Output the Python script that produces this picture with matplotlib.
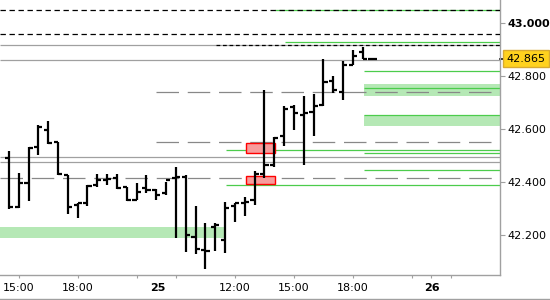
import matplotlib
matplotlib.use('Agg')
import matplotlib.pyplot as plt
from matplotlib.lines import Line2D
from matplotlib.patches import Rectangle
import matplotlib.transforms as mtransforms

# 30 minute bars, day 24 14:30 -> day 25 18:30 (session 08:00 - 22:00)
opens = [42.490, 42.307, 42.397, 42.533, 42.596, 42.550, 42.426, 42.313, 42.322, 42.388,
         42.407, 42.415, 42.380, 42.332, 42.377, 42.370, 42.358, 42.415, 42.420, 42.194,
         42.144, 42.231, 42.181, 42.309, 42.320, 42.332, 42.430, 42.464, 42.573, 42.681,
         42.652, 42.663, 42.690, 42.782, 42.740, 42.840, 42.890, 42.865]
highs = [42.518, 42.434, 42.533, 42.615, 42.630, 42.552, 42.426, 42.322, 42.388, 42.429,
         42.430, 42.430, 42.381, 42.397, 42.426, 42.372, 42.400, 42.457, 42.426, 42.309,
         42.245, 42.246, 42.326, 42.322, 42.344, 42.440, 42.746, 42.570, 42.686, 42.690,
         42.724, 42.731, 42.862, 42.800, 42.856, 42.897, 42.910, 42.867]
lows = [42.298, 42.300, 42.330, 42.502, 42.543, 42.426, 42.279, 42.263, 42.310, 42.382,
        42.388, 42.373, 42.330, 42.332, 42.357, 42.332, 42.351, 42.188, 42.137, 42.128,
        42.071, 42.141, 42.131, 42.250, 42.272, 42.313, 42.414, 42.456, 42.537, 42.596,
        42.464, 42.573, 42.686, 42.734, 42.709, 42.840, 42.863, 42.863]
closes = [42.307, 42.397, 42.528, 42.607, 42.546, 42.430, 42.304, 42.322, 42.385, 42.407,
          42.410, 42.377, 42.332, 42.363, 42.370, 42.351, 42.407, 42.419, 42.200, 42.147,
          42.140, 42.238, 42.302, 42.320, 42.326, 42.430, 42.464, 42.566, 42.674, 42.659,
          42.659, 42.686, 42.778, 42.746, 42.840, 42.876, 42.863, 42.865]
last_price = 42.865

# horizontal levels (prices)
black_dashed_full = [43.048, 42.957]
black_dashed_late = [42.916]
gray_solid = [42.916, 42.858, 42.495, 42.476]
gray_dashed_full = [42.415]
gray_dashed_day = [42.740, 42.549]
green_top = [43.048, 42.929]
green_mid = [42.520, 42.389]
green_late = [42.819, 42.755, 42.652, 42.509, 42.445]
bands_right = [(42.725, 42.770), (42.610, 42.652)]
band_left = (42.190, 42.231)
red_zones = [(42.508, 42.545), (42.392, 42.422)]

yticks = [42.2, 42.4, 42.6, 42.8, 43.0]
xtick_labels = ['15:00', '18:00', '12:00', '15:00', '18:00', '26']

# slot index of each tick (day 24 14:00 = 0, day 25 08:00 = 16, day 26 08:00 = 44)
xtick_pos = [2, 8, 24, 30, 36, 44]
xtick_minor = [14, 18, 42, 46]
day25_pos = 16.2

fig = plt.figure(figsize=(5.5, 3), dpi=100)
ax = fig.add_axes([0, 25 / 300, 500 / 550, 275 / 300])
x0, x1 = 0.1, 50.97
ax.set_xlim(x0, x1)
ax.set_ylim(42.0494, 43.0855)

green = '#4ccc4c'
gray = '#a0a0a0'
dgray = '#888888'

# bands
for lo, hi in bands_right:
    ax.add_patch(Rectangle((37.1, lo), x1 - 37.1, hi - lo, fc='#b5e8b5', ec='none', zorder=1))
ax.add_patch(Rectangle((x0, band_left[0]), 23.1 - x0, band_left[1] - band_left[0],
                       fc='#b5e8b5', ec='none', zorder=1))

# lines
ax.hlines(gray_solid, x0, x1, color=gray, lw=0.9, zorder=2)
ax.hlines(green_top[0], 28.1, x1, color=green, lw=0.9, zorder=2)
ax.hlines(green_top[1], 29.1, x1, color=green, lw=0.9, zorder=2)
ax.hlines(green_mid, 23.1, x1, color=green, lw=0.9, zorder=2)
ax.hlines(green_late, 37.1, x1, color=green, lw=0.9, zorder=2)
ax.hlines(black_dashed_full, x0, x1, color='black', lw=0.9, linestyles=[(0, (4.3, 2.9))], zorder=3)
ax.hlines(black_dashed_late, 22.1, x1, color='black', lw=0.9, linestyles=[(0, (3, 2.2))], zorder=3)
ax.hlines(gray_dashed_full, x0, x1, color=dgray, lw=0.9, linestyles=[(0, (18, 7))], zorder=2)
ax.hlines(gray_dashed_day, 16, x1, color=dgray, lw=0.9, linestyles=[(0, (18, 7))], zorder=2)

# red zones
for lo, hi in red_zones:
    ax.add_patch(Rectangle((25.1, lo), 3, hi - lo, fc='#f79c9c', ec='#ff0000', lw=1, zorder=3))

# OHLC bars
idx = list(range(1, len(opens) + 1))
ax.vlines(idx, lows, highs, color='black', lw=1.6, zorder=5)
ax.hlines(opens, [i - 0.42 for i in idx], idx, color='black', lw=1.6, zorder=5)
ax.hlines(closes, idx, [i + 0.42 for i in idx], color='black', lw=1.6, zorder=5)

# axes styling
for s in ['left', 'top']:
    ax.spines[s].set_visible(False)
for s in ['right', 'bottom']:
    ax.spines[s].set_color(gray)
    ax.spines[s].set_linewidth(1)

ax.yaxis.tick_right()
ax.set_yticks(yticks)
ax.set_yticklabels(['%.3f' % v for v in yticks])
ax.tick_params(axis='y', direction='out', length=3.5, width=0.8, color=gray, pad=2.2, labelsize=8)
ax.get_yticklabels()[-1].set_fontweight('bold')

ax.set_xticks(xtick_pos)
ax.set_xticklabels(xtick_labels)
ax.set_xticks(xtick_minor, minor=True)
ax.tick_params(axis='x', which='both', direction='out', length=2.5, width=0.8, color=gray, pad=3, labelsize=8)
ax.get_xticklabels()[-1].set_fontweight('bold')
ax.annotate('25', xy=(day25_pos, 0), xycoords=('data', 'axes fraction'),
            xytext=(0, -5.5), textcoords='offset points',
            ha='center', va='top', fontsize=8, fontweight='bold')

# last price marker
trans = mtransforms.blended_transform_factory(ax.transAxes, ax.transData)
ax.plot([1, 1.009], [last_price, last_price], color='black', lw=1.2, transform=trans, clip_on=False)
ax.annotate('%.3f' % last_price, xy=(1, last_price), xycoords=trans,
            xytext=(4.5, 0), textcoords='offset points', va='center', ha='left', fontsize=8,
            bbox=dict(boxstyle='square,pad=0.3', fc='#ffd21e', ec='#d8aa30', lw=1))

fig.add_artist(Line2D([0, 1], [1.5 / 300, 1.5 / 300], color=gray, lw=1, transform=fig.transFigure))

fig.savefig('out.png', dpi=100)
